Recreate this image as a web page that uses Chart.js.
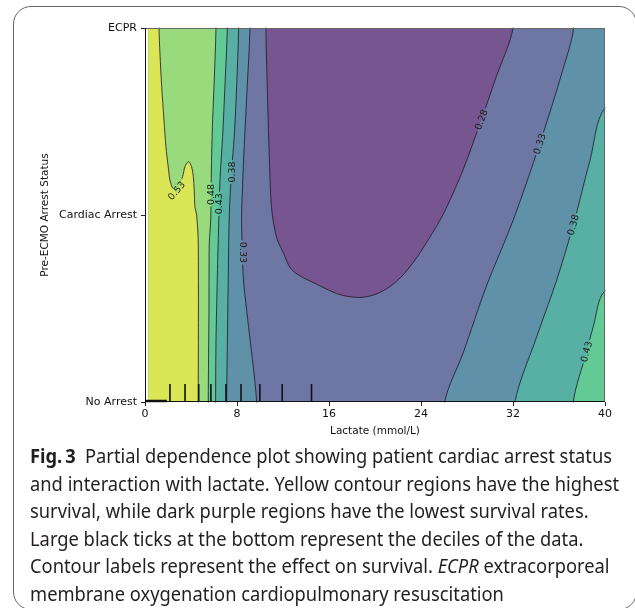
<!DOCTYPE html>
<html>
<head>
<meta charset="utf-8">
<script src="https://cdn.jsdelivr.net/npm/chart.js@4/dist/chart.umd.min.js"></script>
<style>
  body { margin: 0; width: 635px; height: 608px; overflow: hidden; background: #fff; position: relative; }
  #box { position: absolute; left: 13px; top: 6px; width: 624px; height: 604px; box-sizing: border-box; border: 1.3px solid #666; border-radius: 18px; }
  #chart { position: absolute; left: 0; top: 0; }
  #caption { position: absolute; left: 30px; top: 443px; font-family: 'Noto Sans'; font-size: 19px; line-height: 27.6px; color: #231f20; white-space: nowrap; transform-origin: 0 0; }
  #caption b { font-weight: 700; }
</style>
</head>
<body>
<div id="box"></div>
<canvas id="chart" width="635" height="444"></canvas>
<div id="caption"><span class="ln"><b>Fig.&thinsp;3</b>&ensp;Partial dependence plot showing patient cardiac arrest status</span><br><span class="ln">and interaction with lactate. Yellow contour regions have the highest</span><br><span class="ln">survival, while dark purple regions have the lowest survival rates.</span><br><span class="ln">Large black ticks at the bottom represent the deciles of the data.</span><br><span class="ln">Contour labels represent the effect on survival. <i>ECPR</i> extracorporeal</span><br><span class="ln">membrane oxygenation cardiopulmonary resuscitation</span></div>
<script>
// Axes
const lactateRange = [0, 40];
const statusRange = [0, 2];
const statusLabels = ['No Arrest', 'Cardiac Arrest', 'ECPR'];
const pdpStart = 0.3; // first lactate value of the PDP grid

// Contour lines, [lactate, status]
const c028 = [[10.51, 2], [10.63, 1.69], [10.8, 1.33], [11.0, 1.04], [11.44, 0.88], [12.02, 0.8], [12.6, 0.72], [13.32, 0.68], [14.92, 0.63], [16.66, 0.58], [17.81, 0.563], [18.97, 0.56], [20.13, 0.578], [21.29, 0.617], [22.45, 0.68], [23.6, 0.77], [24.76, 0.88], [25.63, 0.97], [26.3, 1.05], [27.65, 1.24], [29.25, 1.51], [30.55, 1.74], [32.0, 2]];
const c033L = [[9.13, 2], [8.89, 1.69], [8.6, 1.33], [8.45, 1.1], [8.4, 0.97], [8.54, 0.67], [8.84, 0.49], [9.18, 0.31], [9.5, 0.14], [9.7, 0]];
const c033R = [[37.27, 2], [36.35, 1.78], [34.32, 1.38], [32.0, 0.97], [29.69, 0.62], [27.65, 0.26], [26.06, 0]];
const c038L = [[8.14, 2], [7.97, 1.69], [7.76, 1.42], [7.53, 1.24], [7.33, 1.0], [7.24, 0.67], [7.16, 0.31], [7.1, 0]];
const c038R = [[40, 1.571], [38.7, 1.294], [37.24, 0.947], [35.8, 0.652], [34.06, 0.349], [32.17, 0]];
const c043L = [[7.16, 2], [6.95, 1.69], [6.75, 1.42], [6.52, 1.19], [6.43, 1.0], [6.29, 0.67], [6.17, 0.31], [6.14, 0]];
const c043R = [[40, 0.594], [38.98, 0.403], [38.4, 0.269], [37.24, 0]];
const c048 = [[6.17, 2], [6.0, 1.69], [5.88, 1.51], [5.8, 1.33], [5.75, 1.15], [5.71, 0.97], [5.59, 0.85], [5.56, 0.49], [5.5, 0]];
const c053 = [[1.22, 2], [1.3, 1.865], [1.45, 1.686], [1.65, 1.508], [1.82, 1.365], [2.02, 1.258], [2.23, 1.17], [2.7, 1.12], [3.27, 1.205], [3.47, 1.258], [3.77, 1.285], [4.05, 1.258], [4.2, 1.205], [4.28, 1.134], [4.34, 1.044], [4.49, 1.0], [4.63, 0.85], [4.63, 0]];

// Contour labels
const labelText = ['0.53', '0.48', '0.43', '0.38', '0.33', '0.28', '0.33', '0.38', '0.43'];
const labelLactate = [2.75, 5.75, 6.46, 7.53, 8.48, 29.25, 34.32, 37.24, 38.4];
const labelStatus = [1.13, 1.11, 1.06, 1.23, 0.8, 1.51, 1.38, 0.947, 0.269];
const labelAngle = [-50, -90, -90, -90, 90, -70, -72, -74, -75];

// Deciles of lactate (rug at the bottom)
const deciles = [2.17, 3.48, 4.67, 5.73, 7.04, 8.35, 9.99, 11.93, 14.48];
const rugBase = [0, 1.9];

// Band colours
const colors = {
  b028: '#775591',
  b033: '#6e76a4',
  b038: '#5f92a8',
  b043: '#58afa3',
  b048: '#63c995',
  b053: '#99db7c',
  top: '#dbe656'
};
const lineColor = 'rgba(30,25,40,0.9)';

// Helpers to turn a contour into a closed region (points outside get clipped)
const X0 = lactateRange[0], X1 = lactateRange[1], Y0 = statusRange[0], Y1 = statusRange[1];
const MX = 3, MY = 0.3;
const pts = c => c.map(p => ({ x: p[0], y: p[1] }));
const twice = arr => arr.flatMap(p => [p, p]);

function out(p) {
  if (p.y >= Y1) return { x: p.x, y: Y1 + MY };
  if (p.y <= Y0) return { x: p.x, y: Y0 - MY };
  if (p.x >= X1) return { x: X1 + MX, y: p.y };
  return { x: X0 - MX, y: p.y };
}

function ring(c, side) {
  const p = pts(c), a = p[0], b = p[p.length - 1];
  let corners = [];
  if (side === 'left') corners = [{ x: pdpStart, y: Y0 - MY }, { x: pdpStart, y: Y1 + MY }];
  if (side === 'right') {
    corners = [{ x: X1 + MX, y: Y0 - MY }];
    if (a.y >= Y1) corners.push({ x: X1 + MX, y: Y1 + MY });
  }
  return [out(a), ...p, out(b), ...twice(corners)];
}

function openLine(c) {
  const p = pts(c);
  return [out(p[0]), ...p, out(p[p.length - 1])];
}

const boxRing = twice([
  { x: pdpStart, y: Y0 - MY }, { x: X1 + MX, y: Y0 - MY },
  { x: X1 + MX, y: Y1 + MY }, { x: pdpStart, y: Y1 + MY }
]);

// Filled bands, bottom to top
const layers = [
  { data: boxRing, color: colors.b033, tension: 0 },
  { data: ring(c028, 'top'), color: colors.b028 },
  { data: ring(c033L, 'left'), color: colors.b038 },
  { data: ring(c033R, 'right'), color: colors.b038 },
  { data: ring(c038L, 'left'), color: colors.b043 },
  { data: ring(c038R, 'right'), color: colors.b043 },
  { data: ring(c043L, 'left'), color: colors.b048 },
  { data: ring(c043R, 'right'), color: colors.b048 },
  { data: ring(c048, 'left'), color: colors.b053 },
  { data: ring(c053, 'left'), color: colors.top }
];
const lines = [c028, c033L, c033R, c038L, c038R, c043L, c043R, c048, c053];

const datasets = [];
layers.forEach(l => {
  datasets.push({
    data: l.data,
    showLine: true,
    fill: 'shape',
    backgroundColor: l.color,
    borderColor: 'transparent',
    borderWidth: 0,
    pointRadius: 0,
    pointHoverRadius: 0,
    tension: l.tension === undefined ? 0.3 : l.tension,
    capBezierPoints: false,
    clip: 0
  });
});
lines.forEach(c => {
  datasets.push({
    data: openLine(c),
    showLine: true,
    fill: false,
    borderColor: lineColor,
    borderWidth: 0.9,
    pointRadius: 0,
    pointHoverRadius: 0,
    tension: 0.3,
    capBezierPoints: false,
    clip: 0.5,
    contour: true
  });
});
// first dataset in the list is drawn first (bottom)
datasets.forEach((d, i) => { d.order = datasets.length - i; });

const labelFont = '9.5px "DejaVu Sans"';

function labelBoxes(chart) {
  const { ctx, scales: { x, y } } = chart;
  ctx.save();
  ctx.font = labelFont;
  const boxes = labelText.map((t, i) => {
    const w = ctx.measureText(t).width + 3;
    return {
      cx: x.getPixelForValue(labelLactate[i]),
      cy: y.getPixelForValue(labelStatus[i]),
      w: w, h: 9,
      a: labelAngle[i] * Math.PI / 180
    };
  });
  ctx.restore();
  return boxes;
}

const overlay = {
  id: 'overlay',
  beforeDatasetDraw(chart, args) {
    if (!chart.data.datasets[args.index].contour) return;
    const ctx = chart.ctx;
    ctx.save();
    ctx.beginPath();
    ctx.rect(0, 0, chart.width, chart.height);
    labelBoxes(chart).forEach(b => {
      const c = Math.cos(b.a), s = Math.sin(b.a);
      const corners = [[-b.w / 2, -b.h / 2], [b.w / 2, -b.h / 2], [b.w / 2, b.h / 2], [-b.w / 2, b.h / 2]];
      corners.forEach((p, k) => {
        const px = b.cx + p[0] * c - p[1] * s;
        const py = b.cy + p[0] * s + p[1] * c;
        if (k === 0) ctx.moveTo(px, py); else ctx.lineTo(px, py);
      });
      ctx.closePath();
    });
    ctx.clip('evenodd');
  },
  afterDatasetDraw(chart, args) {
    if (chart.data.datasets[args.index].contour) chart.ctx.restore();
  },
  afterDatasetsDraw(chart) {
    const { ctx, chartArea: a, scales: { x, y } } = chart;

    // contour labels
    ctx.save();
    ctx.font = labelFont;
    ctx.fillStyle = '#1a1a1a';
    ctx.textAlign = 'center';
    ctx.textBaseline = 'middle';
    labelBoxes(chart).forEach((b, i) => {
      ctx.save();
      ctx.translate(b.cx, b.cy);
      ctx.rotate(b.a);
      ctx.fillText(labelText[i], 0, 0.5);
      ctx.restore();
    });
    ctx.restore();

    // deciles rug
    ctx.save();
    ctx.strokeStyle = '#111';
    ctx.lineWidth = 1.6;
    deciles.forEach(d => {
      const px = x.getPixelForValue(d);
      ctx.beginPath();
      ctx.moveTo(px, a.bottom);
      ctx.lineTo(px, a.bottom - 18);
      ctx.stroke();
    });
    ctx.lineWidth = 2.5;
    ctx.beginPath();
    ctx.moveTo(x.getPixelForValue(rugBase[0]), a.bottom - 1);
    ctx.lineTo(x.getPixelForValue(rugBase[1]), a.bottom - 1);
    ctx.stroke();

    // frame
    ctx.lineWidth = 1;
    ctx.strokeStyle = '#666';
    ctx.beginPath();
    ctx.moveTo(a.left, a.top + 0.5);
    ctx.lineTo(a.right - 0.5, a.top + 0.5);
    ctx.lineTo(a.right - 0.5, a.bottom);
    ctx.stroke();
    ctx.strokeStyle = '#111';
    ctx.beginPath();
    ctx.moveTo(a.left + 0.5, a.top);
    ctx.lineTo(a.left + 0.5, a.bottom - 0.5);
    ctx.lineTo(a.right, a.bottom - 0.5);
    ctx.stroke();
    ctx.restore();
  }
};

const tickFont = { family: 'DejaVu Sans', size: 11 };
const titleFont = { family: 'DejaVu Sans', size: 10.5 };

const chartCtx = document.getElementById('chart').getContext('2d');
const pdpChart = new Chart(chartCtx, {
  type: 'scatter',
  data: { datasets: datasets },
  options: {
    responsive: false,
    animation: false,
    events: [],
    layout: { padding: { left: 0, top: 28, right: 30, bottom: 4 } },
    plugins: { legend: { display: false }, tooltip: { enabled: false } },
    scales: {
      x: {
        type: 'linear',
        min: X0,
        max: X1,
        ticks: { stepSize: 8, font: tickFont, color: '#111', padding: 2, maxRotation: 0 },
        grid: { display: true, drawOnChartArea: false, drawTicks: true, tickLength: 4, color: '#222' },
        border: { display: false },
        title: { display: true, text: 'Lactate (mmol/L)', font: titleFont, color: '#111', padding: { top: 0, bottom: 2 } },
        afterFit: s => { s.height = 38; }
      },
      y: {
        type: 'linear',
        min: Y0,
        max: Y1,
        ticks: { stepSize: 1, font: tickFont, color: '#111', padding: 4, callback: v => statusLabels[v] },
        grid: { display: true, drawOnChartArea: false, drawTicks: true, tickLength: 4, color: '#222' },
        border: { display: false },
        title: { display: true, text: 'Pre-ECMO Arrest Status', font: titleFont, color: '#111', padding: { top: 39, bottom: 0 } },
        afterFit: s => { s.width = 145; }
      }
    }
  },
  plugins: [overlay]
});

// Caption: fit the first line to its width in the figure
document.fonts.ready.then(() => {
  const cap = document.getElementById('caption');
  const w = cap.querySelector('.ln').getBoundingClientRect().width;
  cap.style.transform = 'scaleX(' + (582 / w) + ')';
});
</script>
</body>
</html>
